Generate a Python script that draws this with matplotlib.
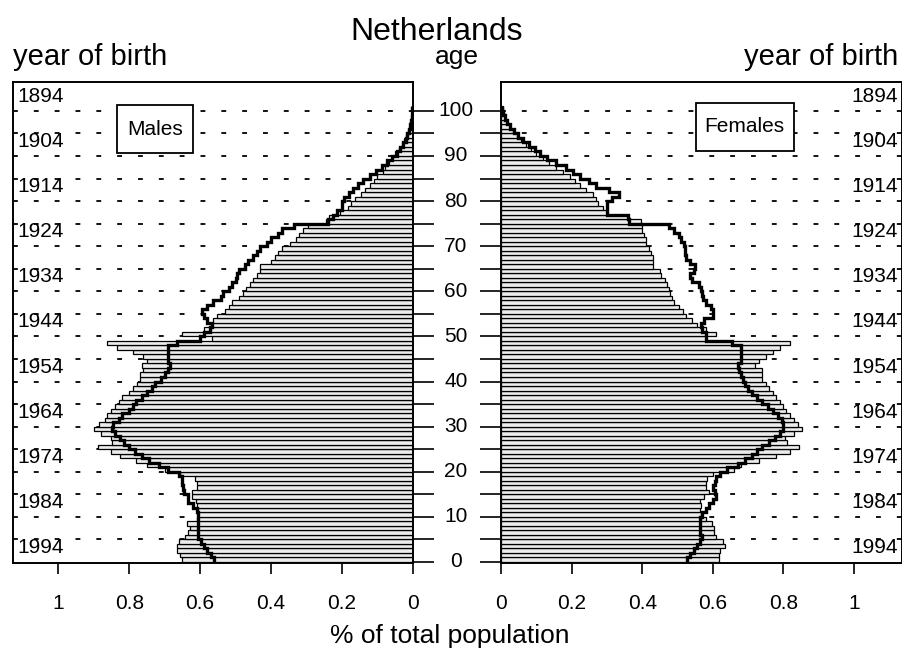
import numpy as np
import matplotlib
matplotlib.use("Agg")
import matplotlib.pyplot as plt
from matplotlib.patches import Rectangle
from matplotlib.transforms import blended_transform_factory

plt.rcParams['font.family'] = ['Liberation Sans', 'DejaVu Sans']
plt.rcParams['lines.scale_dashes'] = False

ages = np.arange(101)

# % of total population by single year of age (bars)
males = [
    0.651, 0.656, 0.664, 0.666, 0.660, 0.642, 0.633, 0.628, 0.637, 0.609,
    0.605, 0.610, 0.608, 0.612, 0.622, 0.622, 0.610, 0.608, 0.615, 0.656,
    0.700, 0.750, 0.780, 0.825, 0.853, 0.888, 0.849, 0.853, 0.880, 0.900,
    0.885, 0.870, 0.862, 0.853, 0.840, 0.830, 0.820, 0.800, 0.790, 0.778,
    0.770, 0.770, 0.760, 0.765, 0.750, 0.760, 0.790, 0.835, 0.863, 0.567,
    0.650, 0.590, 0.567, 0.563, 0.553, 0.530, 0.520, 0.510, 0.490, 0.478,
    0.470, 0.460, 0.450, 0.440, 0.430, 0.430, 0.400, 0.390, 0.380, 0.370,
    0.346, 0.330, 0.320, 0.310, 0.295, 0.245, 0.235, 0.205, 0.183, 0.175,
    0.163, 0.145, 0.135, 0.120, 0.110, 0.100, 0.085, 0.078, 0.067, 0.058,
    0.050, 0.040, 0.030, 0.024, 0.018, 0.013, 0.009, 0.006, 0.004, 0.002,
    0.001]
females = [
    0.618, 0.618, 0.620, 0.634, 0.630, 0.608, 0.603, 0.603, 0.598, 0.580,
    0.566, 0.565, 0.568, 0.565, 0.575, 0.589, 0.580, 0.580, 0.585, 0.600,
    0.660, 0.680, 0.730, 0.780, 0.820, 0.845, 0.810, 0.805, 0.830, 0.853,
    0.840, 0.830, 0.820, 0.806, 0.800, 0.790, 0.780, 0.770, 0.760, 0.750,
    0.740, 0.740, 0.740, 0.720, 0.730, 0.750, 0.770, 0.790, 0.820, 0.580,
    0.610, 0.580, 0.556, 0.540, 0.523, 0.515, 0.505, 0.490, 0.485, 0.480,
    0.475, 0.470, 0.465, 0.452, 0.450, 0.430, 0.430, 0.430, 0.425, 0.420,
    0.410, 0.410, 0.405, 0.400, 0.400, 0.396, 0.360, 0.300, 0.290, 0.275,
    0.270, 0.260, 0.240, 0.225, 0.210, 0.195, 0.175, 0.155, 0.135, 0.118,
    0.100, 0.085, 0.070, 0.058, 0.046, 0.034, 0.025, 0.018, 0.012, 0.008,
    0.005]

# comparison population (thick outline)
males_outline = [
    0.560, 0.570, 0.580, 0.590, 0.598, 0.605, 0.605, 0.605, 0.605, 0.605,
    0.605, 0.610, 0.620, 0.633, 0.635, 0.645, 0.648, 0.650, 0.652, 0.660,
    0.690, 0.715, 0.745, 0.765, 0.785, 0.800, 0.815, 0.825, 0.840, 0.849,
    0.845, 0.830, 0.820, 0.800, 0.790, 0.780, 0.765, 0.750, 0.737, 0.727,
    0.710, 0.700, 0.690, 0.684, 0.690, 0.690, 0.690, 0.690, 0.666, 0.600,
    0.590, 0.572, 0.567, 0.580, 0.590, 0.595, 0.580, 0.563, 0.540, 0.535,
    0.520, 0.510, 0.500, 0.495, 0.490, 0.473, 0.465, 0.450, 0.440, 0.430,
    0.410, 0.400, 0.380, 0.370, 0.335, 0.240, 0.225, 0.215, 0.200, 0.200,
    0.195, 0.180, 0.170, 0.155, 0.140, 0.120, 0.105, 0.088, 0.072, 0.058,
    0.045, 0.035, 0.027, 0.020, 0.015, 0.011, 0.008, 0.005, 0.003, 0.002,
    0.001]
females_outline = [
    0.528, 0.535, 0.546, 0.555, 0.565, 0.570, 0.565, 0.565, 0.565, 0.565,
    0.570, 0.580, 0.590, 0.600, 0.610, 0.605, 0.600, 0.605, 0.610, 0.620,
    0.640, 0.670, 0.690, 0.710, 0.725, 0.740, 0.760, 0.775, 0.790, 0.800,
    0.800, 0.795, 0.785, 0.770, 0.755, 0.740, 0.725, 0.710, 0.700, 0.690,
    0.685, 0.680, 0.675, 0.670, 0.680, 0.680, 0.680, 0.680, 0.655, 0.580,
    0.580, 0.570, 0.566, 0.575, 0.600, 0.600, 0.594, 0.580, 0.572, 0.570,
    0.566, 0.560, 0.540, 0.535, 0.547, 0.550, 0.535, 0.525, 0.520, 0.520,
    0.518, 0.510, 0.505, 0.490, 0.475, 0.363, 0.360, 0.300, 0.300, 0.300,
    0.315, 0.335, 0.305, 0.270, 0.250, 0.225, 0.205, 0.185, 0.155, 0.130,
    0.110, 0.095, 0.078, 0.062, 0.048, 0.036, 0.026, 0.018, 0.012, 0.007,
    0.004]

birth_years = [1894, 1904, 1914, 1924, 1934, 1944, 1954, 1964, 1974, 1984, 1994]
ref_year = 1997.2
share_ticks = [0, 0.2, 0.4, 0.6, 0.8, 1]
share_labels = ["0", "0.2", "0.4", "0.6", "0.8", "1"]
age_labels = list(range(0, 101, 10))

fig = plt.figure(figsize=(9.03, 6.55), dpi=100)
axm = fig.add_axes([0.0141, 0.14, 0.443, 0.7348])
axf = fig.add_axes([0.5548, 0.14, 0.4441, 0.7348])

for ax, vals, outline in [(axm, males, males_outline), (axf, females, females_outline)]:
    for a in range(5, 101, 5):
        ax.axhline(a, color="black", lw=1.3, dashes=(3.5, 11.5), zorder=0.5)
    ax.barh(ages, vals, height=1, align="edge", color="#ececec",
            edgecolor="black", linewidth=0.9, zorder=2)
    ax.stairs(outline, np.arange(102), orientation="horizontal", baseline=None,
              color="black", lw=2.4, zorder=3)
    ax.set_ylim(-0.3, 106.4)
    ax.set_yticks(range(0, 101, 5))
    ax.set_yticklabels([])
    ax.tick_params(axis="y", length=15, width=1.2)
    ax.set_xticks(share_ticks)
    ax.set_xticklabels(share_labels)
    ax.tick_params(axis="x", direction="out", length=8, width=1.2, pad=14, labelsize=15)
    for s in ax.spines.values():
        s.set_linewidth(1.4)

axm.set_xlim(1.129, 0)
axm.yaxis.tick_right()
axf.set_xlim(0, 1.136)
axf.yaxis.tick_left()

tm = blended_transform_factory(axm.transAxes, axm.transData)
tf = blended_transform_factory(axf.transAxes, axf.transData)
for y in birth_years:
    axm.text(0.012, ref_year - y, str(y), transform=tm, ha="left", va="center", fontsize=15)
    axf.text(0.99, ref_year - y, str(y), transform=tf, ha="right", va="center", fontsize=15)

ta = blended_transform_factory(fig.transFigure, axm.transData)
for a in age_labels:
    fig.text(456 / 903, a, str(a), transform=ta, ha="center", va="center", fontsize=15)

# sex labels in boxes
axm.add_patch(Rectangle((0.261, 0.8525), 0.19, 0.0997, transform=axm.transAxes,
                        fc="white", ec="black", lw=1.3, zorder=5))
axm.text(0.356, 0.902, "Males", transform=axm.transAxes, ha="center", va="center",
         fontsize=15, zorder=6)
axf.add_patch(Rectangle((0.486, 0.857), 0.244, 0.0997, transform=axf.transAxes,
                        fc="white", ec="black", lw=1.3, zorder=5))
axf.text(0.608, 0.907, "Females", transform=axf.transAxes, ha="center", va="center",
         fontsize=15, zorder=6)

fig.text(437 / 903, 1 - 32 / 655, "Netherlands", ha="center", va="center", fontsize=23)
fig.text(13 / 903, 1 - 57 / 655, "year of birth", ha="left", va="center", fontsize=21)
fig.text(457 / 903, 1 - 57 / 655, "age", ha="center", va="center", fontsize=19)
fig.text(898 / 903, 1 - 57 / 655, "year of birth", ha="right", va="center", fontsize=21)
fig.text(450 / 903, 1 - 636 / 655, "% of total population", ha="center", va="center", fontsize=19)

fig.savefig("out.png", dpi=100)
